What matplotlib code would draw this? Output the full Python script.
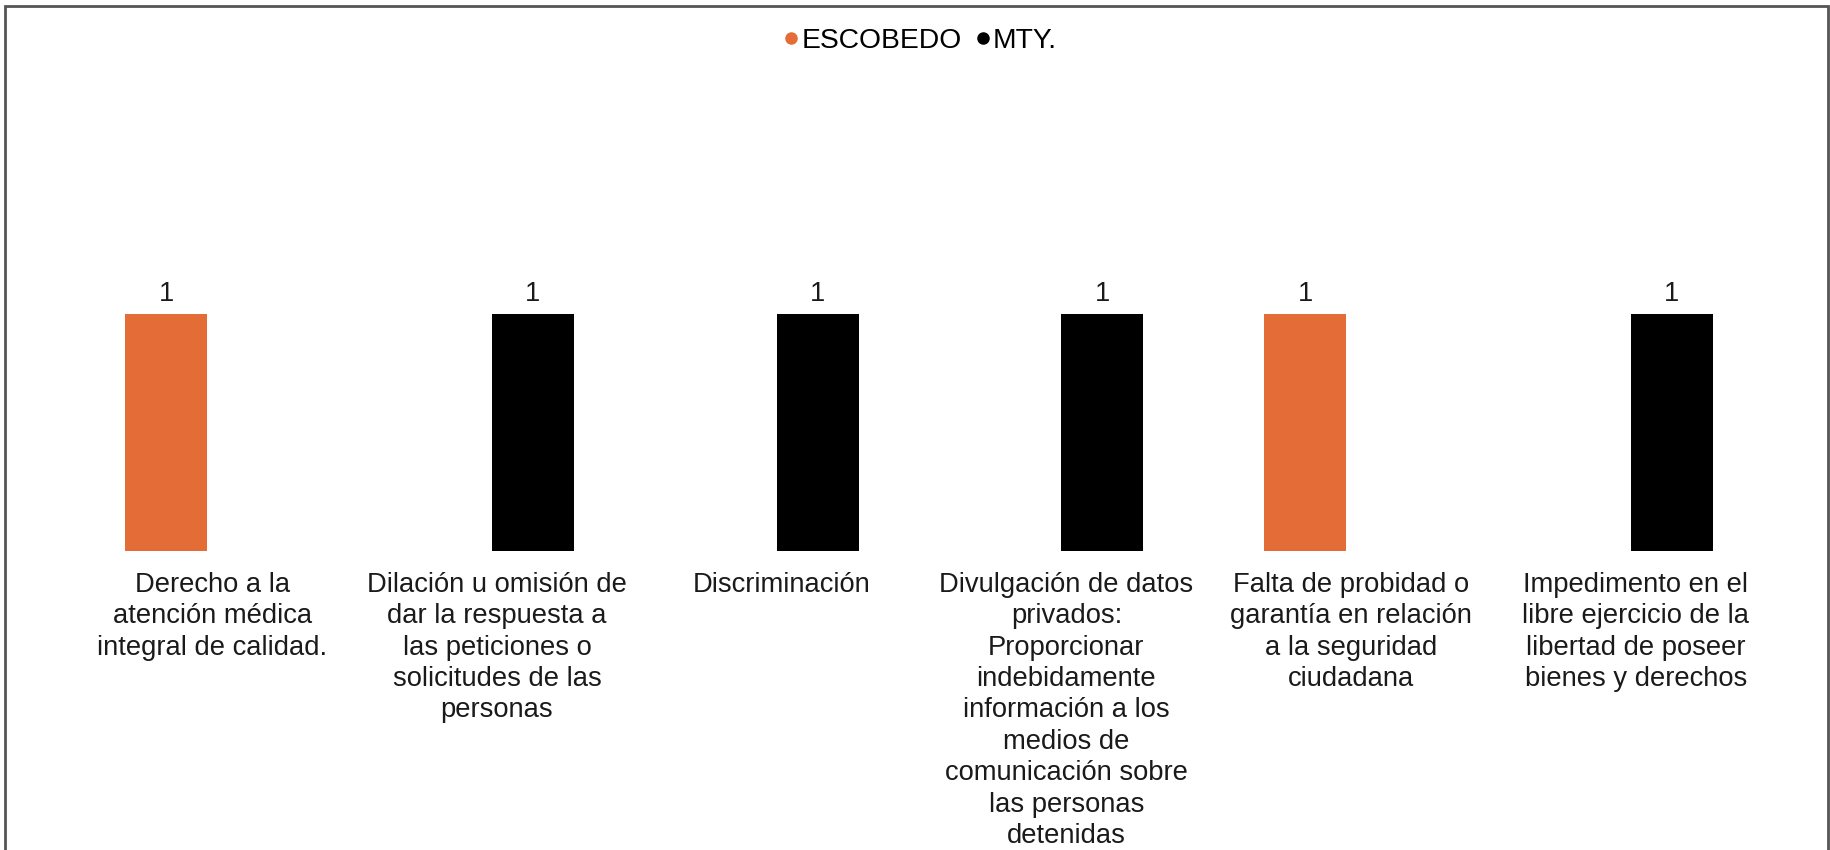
import numpy as np
import matplotlib
matplotlib.use("Agg")
import matplotlib.pyplot as plt
import matplotlib.transforms as mtransforms
from matplotlib.lines import Line2D
from matplotlib.patches import Rectangle

plt.rcParams["font.family"] = ["Liberation Sans", "DejaVu Sans"]

# data
categories = [
    "Derecho a la\natención médica\nintegral de calidad.",
    "Dilación u omisión de\ndar la respuesta a\nlas peticiones o\nsolicitudes de las\npersonas",
    "Discriminación",
    "Divulgación de datos\nprivados:\nProporcionar\nindebidamente\ninformación a los\nmedios de\ncomunicación sobre\nlas personas\ndetenidas",
    "Falta de probidad o\ngarantía en relación\na la seguridad\nciudadana",
    "Impedimento en el\nlibre ejercicio de la\nlibertad de poseer\nbienes y derechos",
]
escobedo = [1, np.nan, np.nan, np.nan, 1, np.nan]
mty = [np.nan, 1, 1, 1, np.nan, 1]

ORANGE = "#E46C37"
BLACK = "#000000"
W, H = 1831, 850

fig = plt.figure(figsize=(W / 100, H / 100), dpi=100)
ax = fig.add_axes([65 / W, (H - 551) / H, 1708 / W, 284 / H])

x = np.arange(len(categories))
bw = 0.288
b1 = ax.bar(x - bw / 2, escobedo, bw, color=ORANGE, linewidth=0)
b2 = ax.bar(x + bw / 2, mty, bw, color=BLACK, linewidth=0)

for bars, vals in ((b1, escobedo), (b2, mty)):
    labs = ["" if np.isnan(v) else f"{v:g}" for v in vals]
    ax.bar_label(bars, labels=labs, padding=5, fontsize=19.7, color="#1a1a1a")

ax.set_xlim(-0.5, len(categories) - 0.5)
ax.set_ylim(0, 1.2)
ax.set_xticks(x)
ax.set_xticklabels(categories, fontsize=19.7, color="#1a1a1a", linespacing=1.27,
                   va="top", ha="center")
ax.tick_params(axis="x", length=0, pad=15)
# category labels sit a few px right of the group centre
shift = mtransforms.ScaledTranslation(5 / 100, 0, fig.dpi_scale_trans)
for lab in ax.get_xticklabels():
    lab.set_transform(lab.get_transform() + shift)
ax.set_yticks([])
for s in ax.spines.values():
    s.set_visible(False)

handles = [Line2D([], [], marker="o", ls="", color=ORANGE, markersize=8),
           Line2D([], [], marker="o", ls="", color=BLACK, markersize=8)]
fig.legend(handles, ["ESCOBEDO", "MTY."], loc="center", ncol=2,
           bbox_to_anchor=(0.5, 1 - 41 / H), frameon=False, fontsize=20.3,
           handletextpad=-0.25, columnspacing=0.15, handlelength=1.2)

# outer frame
fig.patches.append(Rectangle((5.5 / W, -0.1), 1 - 8 / W, 1.1 - 6.5 / H,
                             transform=fig.transFigure, fill=False,
                             edgecolor="#555555", lw=2))

fig.savefig("out.png", dpi=100, facecolor="white")
